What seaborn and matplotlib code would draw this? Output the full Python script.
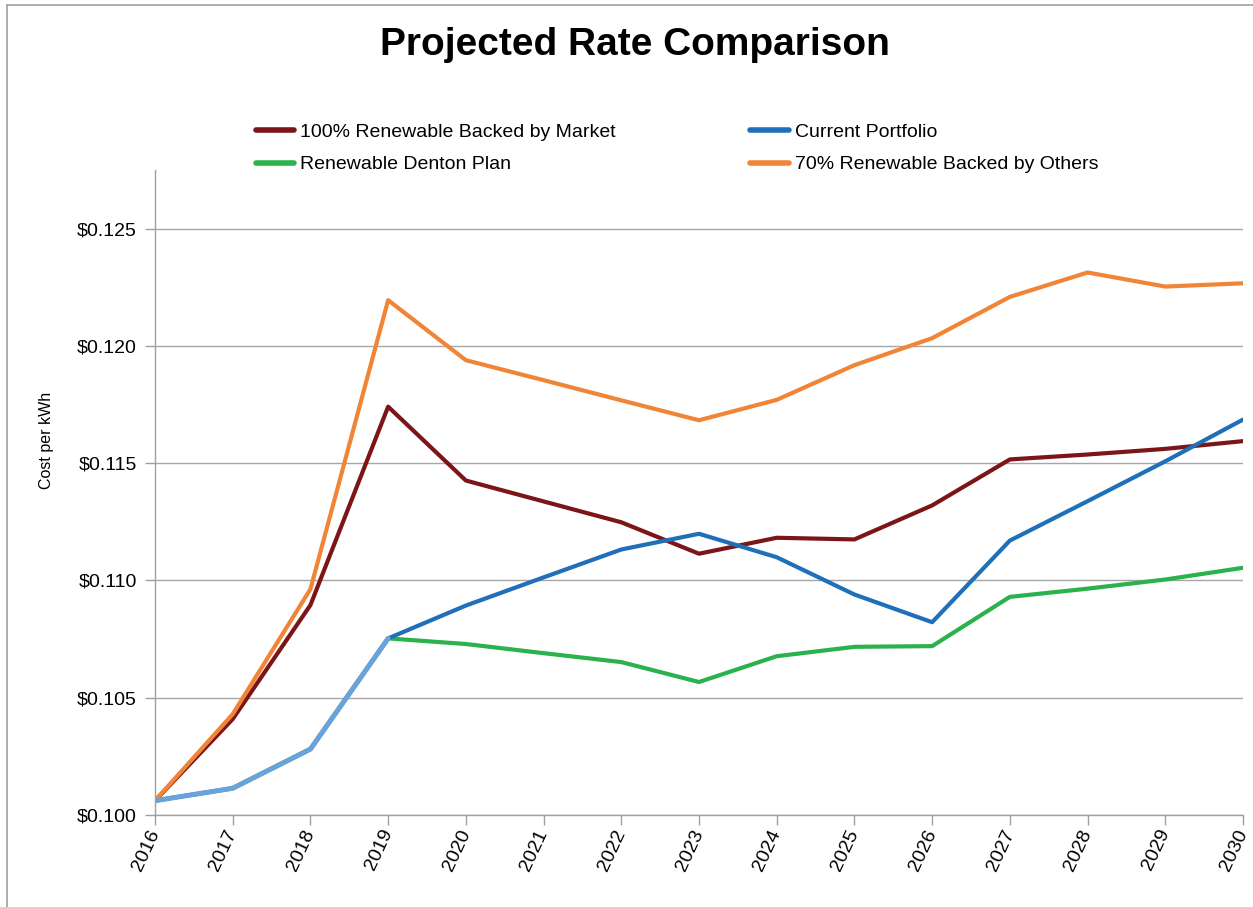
import numpy as np
import pandas as pd
import matplotlib
matplotlib.use("Agg")
import matplotlib.pyplot as plt
from matplotlib.lines import Line2D
from matplotlib.ticker import FuncFormatter
import seaborn as sns

# ── data ──
years = list(range(2016, 2031))
market_100 = [0.10061, 0.10409, 0.10895, 0.11741, 0.11426, 0.11337, 0.11248, 0.11114,
              0.11182, 0.11175, 0.11320, 0.11516, 0.11537, 0.11561, 0.11594]
current = [0.10061, 0.10114, 0.10281, 0.10753, 0.10893, 0.11013, 0.11132, 0.11199,
           0.11099, 0.10940, 0.10822, 0.11170, 0.11338, 0.11508, 0.11686]
denton = [0.10061, 0.10114, 0.10281, 0.10753, 0.10729, 0.10690, 0.10652, 0.10567,
          0.10677, 0.10717, 0.10720, 0.10930, 0.10965, 0.11004, 0.11054]
others_70 = [0.10061, 0.10430, 0.10963, 0.12195, 0.11939, 0.11854, 0.11768, 0.11683,
             0.11770, 0.11918, 0.12033, 0.12209, 0.12313, 0.12253, 0.12267]

names = ["100% Renewable Backed by Market", "Renewable Denton Plan",
         "Current Portfolio", "70% Renewable Backed by Others"]
colors = ["#7b1518", "#2bb24c", "#1f70b8", "#f08538"]
shared_color = "#6aa3d9"   # where Current Portfolio and Denton Plan overlap
n_shared = 4               # 2016-2019 identical

df = pd.DataFrame({"year": years * 4,
                   "rate": market_100 + denton + current + others_70,
                   "series": sum([[n] * len(years) for n in names], [])})

sns.set_style("white")
plt.rcParams["font.family"] = ["Liberation Sans", "DejaVu Sans"]
plt.rcParams["text.color"] = "black"

fig = plt.figure(figsize=(12.53, 9.07), dpi=100)
ax = fig.add_axes([155 / 1253, 92 / 907, 1088 / 1253, 645 / 907])

sns.lineplot(data=df, x="year", y="rate", hue="series", hue_order=names,
             palette=dict(zip(names, colors)), linewidth=3.0, ax=ax, legend=False)
sns.lineplot(x=years[:n_shared], y=current[:n_shared], color=shared_color,
             linewidth=3.6, ax=ax)

ax.set_xlim(2016, 2030)
ax.set_ylim(0.100, 0.1275)
ax.set_yticks(np.arange(0.100, 0.1251, 0.005))
ax.yaxis.set_major_formatter(FuncFormatter(lambda v, _: f"${v:.3f}"))
ax.set_xticks(years)
ax.set_xticklabels([str(y) for y in years], rotation=65, ha="right", va="center",
                   rotation_mode="anchor")
ax.tick_params(axis="both", labelsize=14, colors="#a0a0a0", labelcolor="black",
               length=7, width=1, direction="out", left=True, bottom=True)
ax.tick_params(axis="y", pad=6)
ax.tick_params(axis="x", pad=4)
ax.grid(axis="y", color="#a6a6a6", linewidth=1)
ax.grid(axis="x", visible=False)
for side in ["top", "right"]:
    ax.spines[side].set_visible(False)
for side in ["left", "bottom"]:
    ax.spines[side].set_color("#a0a0a0")
    ax.spines[side].set_linewidth(1)

ax.set_xlabel("")
ax.set_ylabel("Cost per kWh", fontsize=11.5, color="black")
ax.yaxis.set_label_coords(-0.093, 0.581)

fig.suptitle("Projected Rate Comparison", x=0.507, y=1 - 45 / 907, va="center",
             fontsize=28, fontweight="bold", color="black")

handles = [Line2D([], [], color=c, linewidth=4) for c in colors]
fig.legend(handles, names, ncol=2, frameon=False, fontsize=14,
           loc="upper left", bbox_to_anchor=(238 / 1253, 1 - 106 / 907),
           handlelength=2.0, handletextpad=0.3, columnspacing=6.9,
           labelspacing=0.75)

# thin page frame on left/top
fig.add_artist(Line2D([7 / 1253, 7 / 1253], [0, 1 - 5 / 907], transform=fig.transFigure,
                      color="#a0a0a0", linewidth=1.2))
fig.add_artist(Line2D([7 / 1253, 1], [1 - 5 / 907, 1 - 5 / 907], transform=fig.transFigure,
                      color="#a0a0a0", linewidth=1.2))

fig.savefig("out.png", dpi=100)
